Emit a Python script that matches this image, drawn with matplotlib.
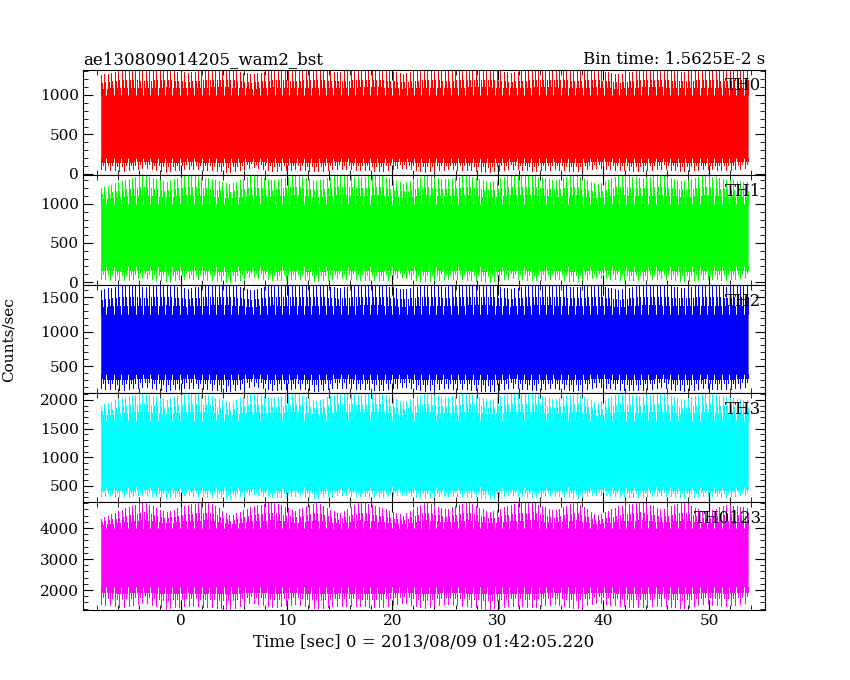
import matplotlib
matplotlib.use("Agg")
import matplotlib.pyplot as plt
import numpy as np
from matplotlib.ticker import AutoMinorLocator

t_start, t_end = -7.6, 53.7
# outer envelope values, ~2 s apart
th0_hi = [1250,1316,1300,1316,1280,1316,1316,1260,1316,1300,1316,1290,1316,1316,1270,1316,1300,1316,1316,1280,1316,1316,1300,1316,1260,1316,1316,1290,1316,1300,1316]
th0_lo = [60,40,80,30,70,50,20,90,40,60,30,70,50,40,80,30,60,50,20,70,40,60,30,80,50,40,70,30,60,50,80]
th1_hi = [1200,1300,1370,1280,1370,1330,1250,1370,1300,1370,1290,1370,1340,1370,1260,1370,1310,1370,1280,1370,1370,1300,1370,1250,1370,1330,1370,1290,1370,1310,1280]
th1_lo = [40,20,60,10,50,30,0,70,20,40,10,50,30,20,60,10,40,30,0,50,20,40,10,60,30,20,50,10,40,30,60]
th2_hi = [1600,1674,1650,1674,1620,1674,1674,1600,1674,1660,1674,1630,1674,1674,1610,1674,1650,1674,1674,1620,1674,1674,1640,1674,1600,1674,1674,1630,1674,1650,1674]
th2_lo = [180,150,200,140,190,160,130,210,150,180,140,190,170,150,200,140,180,160,130,190,150,180,140,200,160,150,190,140,180,160,200]
th3_hi = [1900,2050,2121,2000,2121,2080,1950,2121,2030,2121,1980,2121,2090,2121,1960,2121,2040,2121,2000,2121,2121,2010,2121,1940,2121,2070,2121,2000,2121,2050,1990]
th3_lo = [330,300,350,290,340,310,280,360,300,330,290,340,320,300,350,290,330,310,280,340,300,330,290,350,310,300,340,290,330,310,350]
tha_hi = [4300,4600,4839,4500,4750,4839,4400,4700,4839,4550,4839,4450,4839,4650,4400,4839,4600,4839,4500,4750,4839,4550,4839,4400,4700,4839,4600,4839,4500,4750,4650]
tha_lo = [1550,1450,1600,1400,1500,1450,1380,1600,1450,1550,1400,1500,1480,1450,1600,1400,1550,1480,1380,1500,1450,1550,1400,1600,1480,1450,1500,1400,1550,1480,1600]
# solid core band
core = [(200, 1000), (200, 1000), (380, 1250), (480, 1650), (2100, 4000)]

series = [("TH0", th0_hi, th0_lo, "#ff0000", (-13, 1316), [0, 500, 1000]),
          ("TH1", th1_hi, th1_lo, "#00ff00", (-38, 1370), [0, 500, 1000]),
          ("TH2", th2_hi, th2_lo, "#0000ff", (109, 1674), [500, 1000, 1500]),
          ("TH3", th3_hi, th3_lo, "#00ffff", (219, 2121), [500, 1000, 1500, 2000]),
          ("TH0123", tha_hi, tha_lo, "#ff00ff", (1355, 4839), [2000, 3000, 4000])]

plt.rcParams['font.family'] = ['DejaVu Serif']
fs = 12
fig = plt.figure(figsize=(8.5, 6.8), dpi=100)
L, R = 83/850, 765/850
tops = [70, 175, 285, 393, 502, 610]
axes = []
for i, (name, hi, lo, col, yl, yt) in enumerate(series):
    ax = fig.add_axes([L, 1-tops[i+1]/680, R-L, (tops[i+1]-tops[i])/680])
    hi = np.array(hi, float); lo = np.array(lo, float)
    t = np.linspace(t_start, t_end, len(hi))
    m = 560
    tf = np.linspace(t_start, t_end, m)
    h = np.interp(tf, t, hi); l = np.interp(tf, t, lo)
    c_lo, c_hi = core[i]
    k = np.arange(m)
    up = np.where(k % 3 == 0, h, np.where(k % 3 == 1, c_hi + 0.6*(h - c_hi), c_hi + 0.3*(h - c_hi)))
    dn = np.where(k % 4 == 0, l, np.where(k % 4 == 2, c_lo - 0.6*(c_lo - l), c_lo - 0.3*(c_lo - l)))
    ax.fill_between(tf, c_lo, c_hi, color=col, lw=0)
    ax.vlines(tf, c_hi, up, colors=col, lw=0.72, antialiased=False)
    ax.vlines(tf, dn, c_lo, colors=col, lw=0.72, antialiased=False)
    ax.set_xlim(-9.28, 55.3); ax.set_ylim(*yl)
    ax.set_yticks(yt)
    ax.xaxis.set_minor_locator(AutoMinorLocator(5))
    ax.yaxis.set_minor_locator(AutoMinorLocator(5))
    ax.tick_params(which='both', direction='in', top=True, right=True, labelsize=11, pad=3)
    ax.tick_params(which='major', length=7); ax.tick_params(which='minor', length=3.5)
    ax.text(0.995, 0.93, name, transform=ax.transAxes, ha='right', va='top', fontsize=fs)
    if i < 4:
        ax.set_xticklabels([])
    axes.append(ax)
axes[-1].set_xticks([0, 10, 20, 30, 40, 50])
axes[-1].set_xlabel("Time [sec] 0 = 2013/08/09 01:42:05.220", fontsize=fs)
axes[0].set_title("ae130809014205_wam2_bst", loc='left', fontsize=fs, pad=4)
axes[0].set_title("Bin time: 1.5625E-2 s", loc='right', fontsize=fs, pad=4)
fig.text(0.002, 0.50, "Counts/sec", rotation=90, va='center', fontsize=fs-1)
fig.savefig("out.png")
